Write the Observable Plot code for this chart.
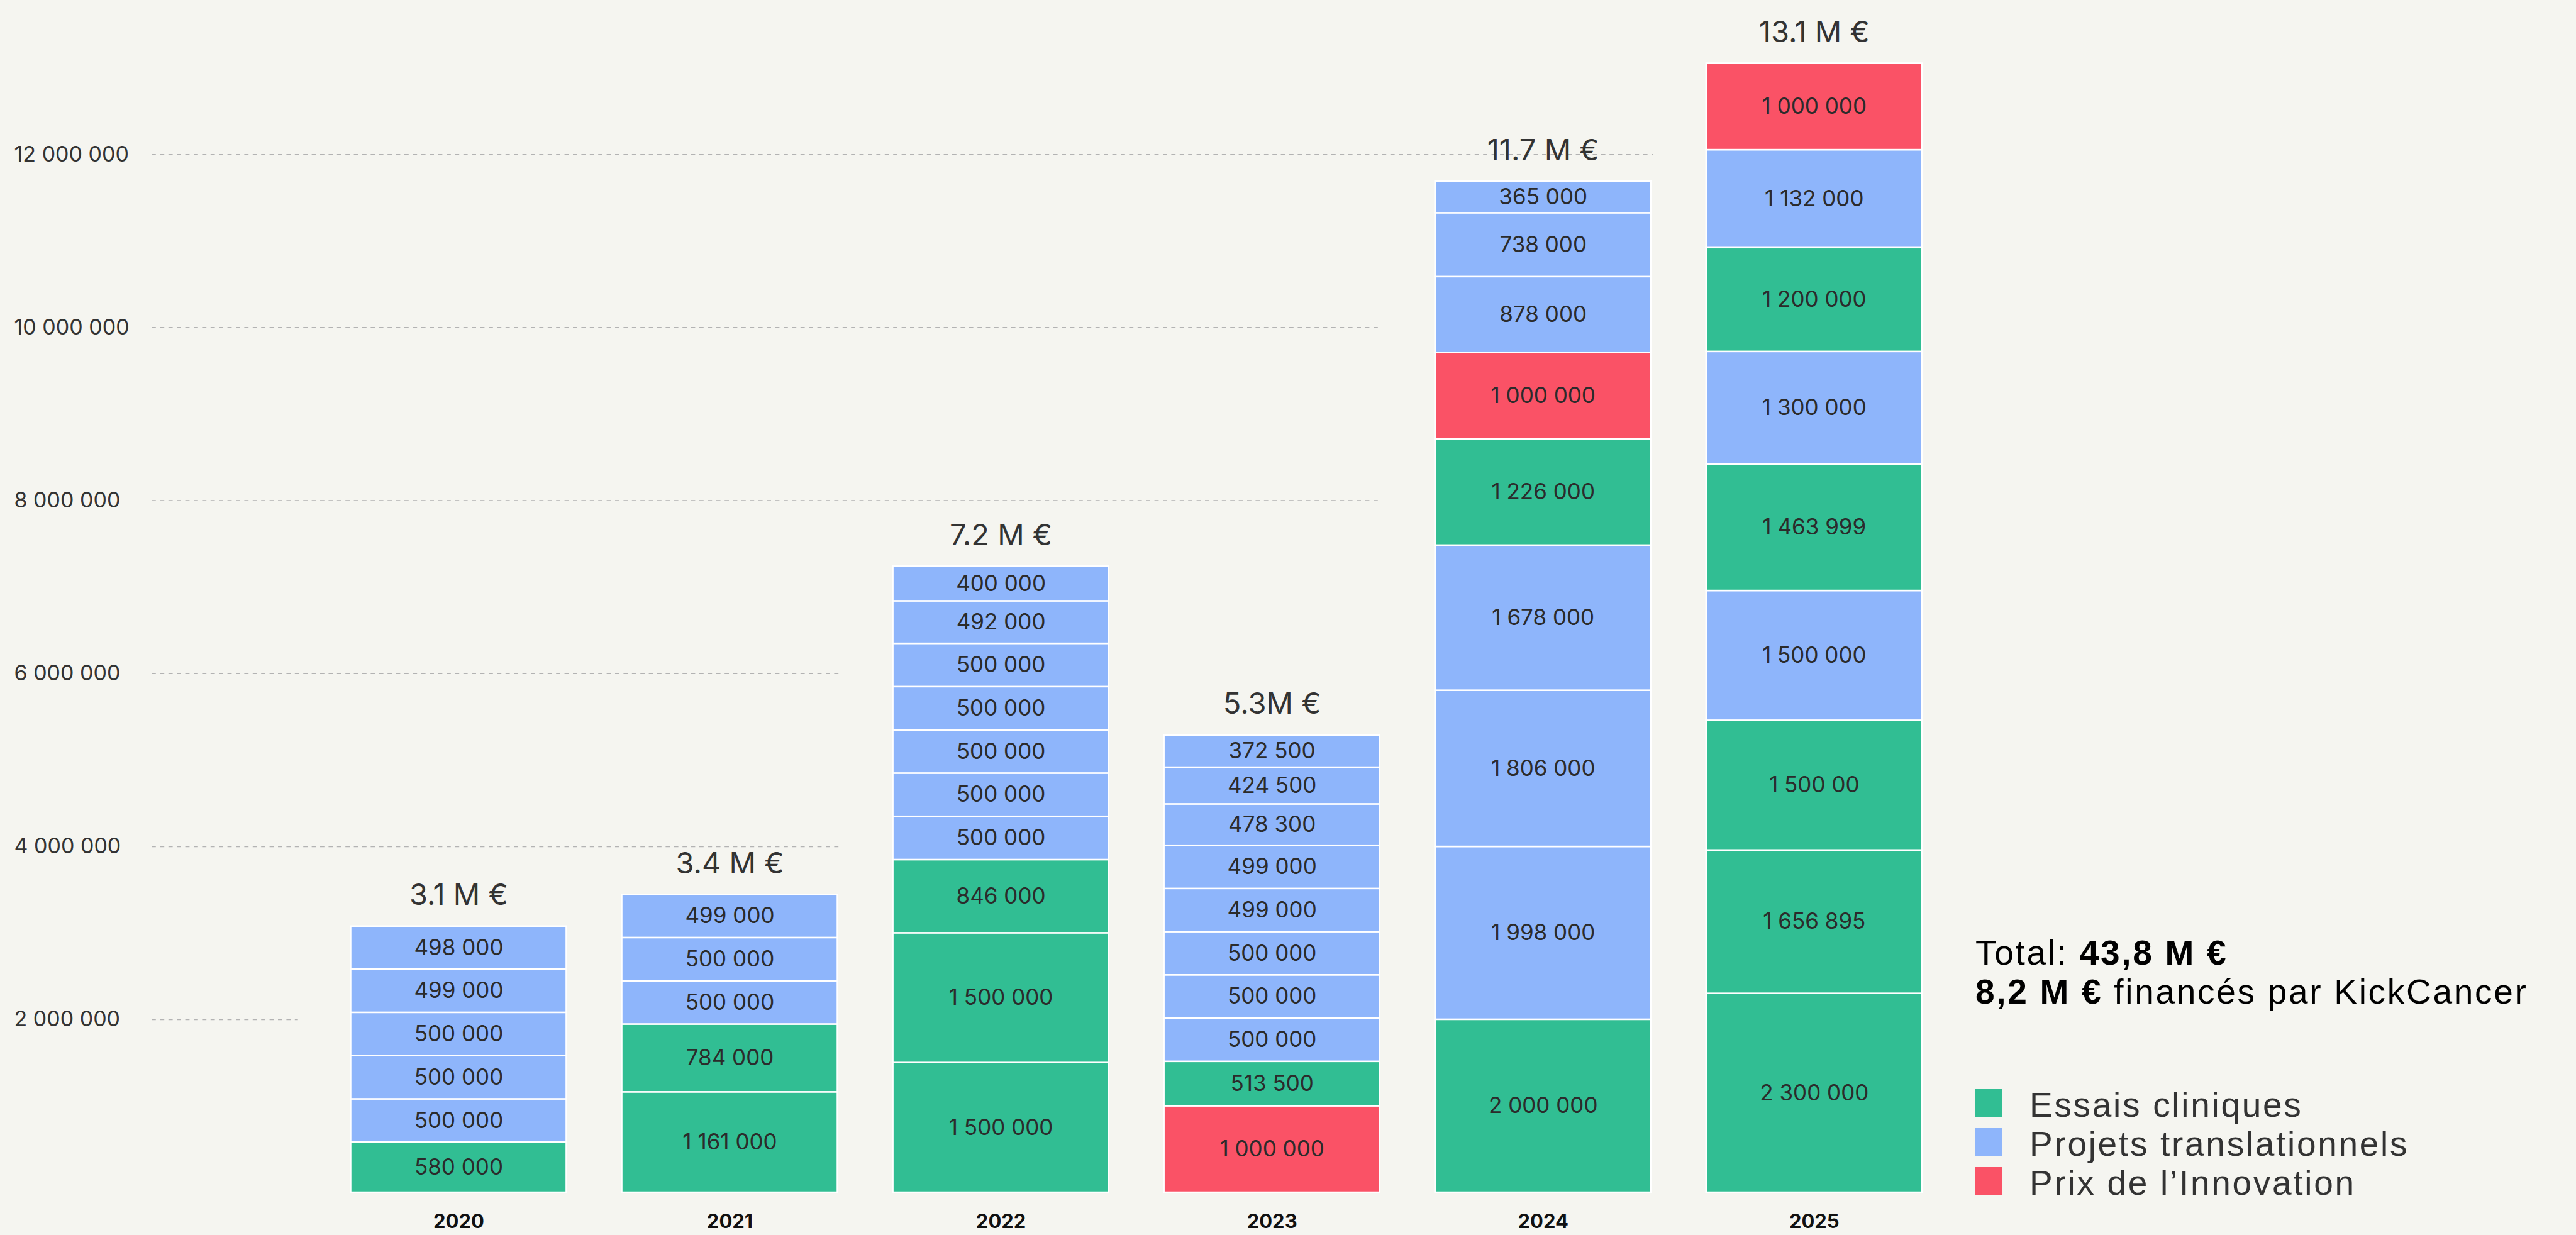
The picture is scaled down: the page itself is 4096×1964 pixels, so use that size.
<!DOCTYPE html>
<html>
<head>
<meta charset="utf-8">
<script src="https://cdn.jsdelivr.net/npm/d3@7"></script>
<script src="https://cdn.jsdelivr.net/npm/@observablehq/plot@0.6"></script>
<style>
  html, body { margin: 0; padding: 0; background: #F5F5F0; }
  #wrap { position: relative; width: 4096px; height: 1964px; overflow: hidden; background: #F5F5F0;
          font-family: Inter, sans-serif; }
  #wrap > svg { position: absolute; left: 0; top: 0; }
  .ov { position: absolute; white-space: nowrap; font-family: "Liberation Sans", Arial, sans-serif;
        font-size: 55px; letter-spacing: 2.7px; }
  #total { left: 3141px; top: 1485px; line-height: 61.5px; color: #000; }
  #total b { font-weight: 700; }
  .sw { position: absolute; width: 43.5px; height: 43.5px; }
  .lg { line-height: 62px; color: #333; }
</style>
</head>
<body>
<div id="wrap"></div>
<script>
// ---------------- DATA ----------------
const years = [2020, 2021, 2022, 2023, 2024, 2025];
const totalLabels = ["3.1 M €", "3.4 M €", "7.2 M €", "5.3M €", "11.7 M €", "13.1 M €"];
const categories = ["Essais cliniques", "Projets translationnels", "Prix de l’Innovation"];
const colors = ["#31BE93", "#8EB5FB", "#FA5266"];

// segments from bottom to top ; E = Essais cliniques, P = Projets translationnels, R = Prix de l'Innovation
const values2020 = [580000, 500000, 500000, 500000, 499000, 498000];
const types2020  = ["E", "P", "P", "P", "P", "P"];
const values2021 = [1161000, 784000, 500000, 500000, 499000];
const types2021  = ["E", "E", "P", "P", "P"];
const values2022 = [1500000, 1500000, 846000, 500000, 500000, 500000, 500000, 500000, 492000, 400000];
const types2022  = ["E", "E", "E", "P", "P", "P", "P", "P", "P", "P"];
const values2023 = [1000000, 513500, 500000, 500000, 500000, 499000, 499000, 478300, 424500, 372500];
const types2023  = ["R", "E", "P", "P", "P", "P", "P", "P", "P", "P"];
const values2024 = [2000000, 1998000, 1806000, 1678000, 1226000, 1000000, 878000, 738000, 365000];
const types2024  = ["E", "P", "P", "P", "E", "R", "P", "P", "P"];
const values2025 = [2300000, 1656895, 1500000, 1500000, 1463999, 1300000, 1200000, 1132000, 1000000];
const types2025  = ["E", "E", "E", "P", "E", "P", "E", "P", "R"];
// label printed differently from its value in the original
const labelOverrides = { "2025-2": "1 500 00" };

const yTicks = [2000000, 4000000, 6000000, 8000000, 10000000, 12000000];

const totalLine1 = ["Total: ", "43,8 M €"];
const totalLine2 = ["8,2 M €", " financés par KickCancer"];

// ---------------- BUILD ----------------
const valuesByYear = [values2020, values2021, values2022, values2023, values2024, values2025];
const typesByYear = [types2020, types2021, types2022, types2023, types2024, types2025];
const typeName = { E: categories[0], P: categories[1], R: categories[2] };
const fmt = d3.formatLocale({ thousands: " ", grouping: [3], decimal: ",", currency: ["", ""] }).format(",");

const segs = [];
const totals = [];
years.forEach((yr, i) => {
  let c = 0;
  valuesByYear[i].forEach((v, j) => {
    segs.push({ year: yr, y1: c, y2: c + v, cat: typeName[typesByYear[i][j]],
                label: labelOverrides[`${yr}-${j}`] ?? fmt(v) });
    c += v;
  });
  totals.push({ year: yr, total: c, label: totalLabels[i] });
});

// layout constants (data units for x)
const HW = 0.3978;            // half bar width, in years
const X_START = 2018.868;     // left edge of plot frame
const X_END = 2027.811;
// gridline stops at the right edge of the last bar shorter than the tick
function gridEnd(t) {
  const k = totals.findIndex(d => d.total > t);
  const yr = k < 0 ? years[years.length - 1] + 1 : years[k];
  return yr - 1 + HW + 0.01;
}

const chart = Plot.plot({
  width: 4096,
  height: 1964,
  marginLeft: 241,
  marginRight: 0,
  marginTop: 39,
  marginBottom: 68,
  style: { background: "transparent", fontFamily: "Inter, sans-serif" },
  x: { type: "linear", domain: [X_START, X_END], axis: null },
  y: { domain: [0, 13500000], axis: null },
  color: { domain: categories, range: colors },
  marks: [
    Plot.ruleY(yTicks, { y: d => d, x1: () => X_START, x2: d => gridEnd(d),
      stroke: "#b3b3b3", strokeWidth: 1.7, strokeDasharray: "6.8,6.6" }),
    Plot.text(yTicks, { y: d => d, text: d => fmt(d), frameAnchor: "left", dx: -219,
      textAnchor: "start", fontSize: 34, fill: "#333" }),
    Plot.rect(segs, { x1: d => d.year - HW, x2: d => d.year + HW, y1: "y1", y2: "y2",
      fill: "cat", stroke: "#ffffff", strokeWidth: 2.5 }),
    Plot.text(segs, { x: "year", y: d => (d.y1 + d.y2) / 2, text: "label",
      fontSize: 35, fill: "#2b2b2b", letterSpacing: 0.8 }),
    Plot.text(totals, { x: "year", y: "total", text: "label", lineAnchor: "bottom", dy: -34,
      fontSize: 47, fill: "#333" }),
    Plot.text(years, { x: d => d, y: () => 0, text: d => String(d), dy: 47,
      fontSize: 31, fontWeight: 700, fill: "#111", letterSpacing: 1.8 })
  ]
});
const wrap = document.getElementById("wrap");
wrap.appendChild(chart);

// ---------------- TOTAL + LEGEND (HTML overlay) ----------------
const tot = d3.select(wrap).append("div").attr("class", "ov").attr("id", "total");
tot.append("span").text(totalLine1[0]);
tot.append("b").text(totalLine1[1]);
tot.append("br");
tot.append("b").text(totalLine2[0]);
tot.append("span").text(totalLine2[1]);

const legendTop = 1732, legendStep = 62;
categories.forEach((c, i) => {
  d3.select(wrap).append("div").attr("class", "sw")
    .style("left", "3140px").style("top", (legendTop + i * legendStep) + "px")
    .style("background", colors[i]);
  d3.select(wrap).append("div").attr("class", "ov lg")
    .style("left", "3227px").style("top", (legendTop + i * legendStep - 6) + "px")
    .text(c);
});
</script>
</body>
</html>
